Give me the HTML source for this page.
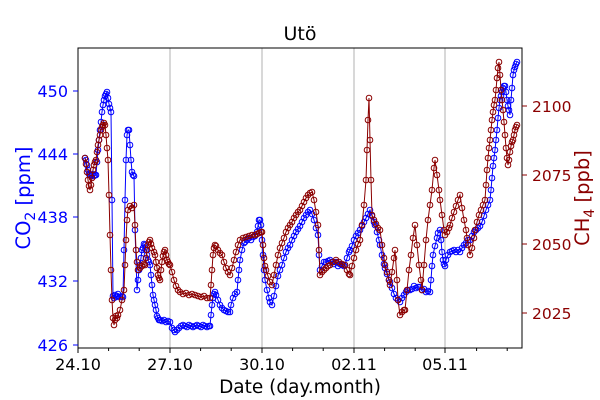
<!DOCTYPE html>
<html><head><meta charset="utf-8"><style>
html,body{margin:0;padding:0;background:#fff;}
svg{display:block;font-family:"DejaVu Sans","Liberation Sans",sans-serif;}
</style></head><body>
<svg width="600" height="400" viewBox="0 0 600 400" xmlns="http://www.w3.org/2000/svg">
<defs>
<marker id="mb" markerUnits="userSpaceOnUse" markerWidth="8" markerHeight="8" refX="4" refY="4" overflow="visible"><circle cx="4" cy="4" r="2.8" fill="none" stroke="#0000ff" stroke-width="1"/></marker>
<marker id="mr" markerUnits="userSpaceOnUse" markerWidth="8" markerHeight="8" refX="4" refY="4" overflow="visible"><circle cx="4" cy="4" r="2.8" fill="none" stroke="#8b0000" stroke-width="1"/></marker>
</defs>
<rect width="600" height="400" fill="#fff"/>
<g stroke="#b0b0b0" stroke-width="1">
<line x1="170" y1="48" x2="170" y2="348"/><line x1="262" y1="48" x2="262" y2="348"/>
<line x1="354" y1="48" x2="354" y2="348"/><line x1="445" y1="48" x2="445" y2="348"/>
</g>
<polyline fill="none" stroke="#0000ff" stroke-width="1" marker-start="url(#mb)" marker-mid="url(#mb)" marker-end="url(#mb)" points="85,158 86,160 87,165 88,170 89,174 90,175 91,176 92,175 93,174 94,176 95,175 96,175 97,162 98,150 99,140 100,130 101,122 102,112 103,105 104,100 105,96 106,94 107,92 108,98 109,104 110,108 111,112 112,200 113,296 114,298 115,295 116,297 117,296 118,294 120,297 122,296 123,297 124,250 125,200 126,160 127,135 128,130 129,130 130,145 131,160 132,172 133,175 134,176 135,230 137,290 138,280 139,270 140,265 141,258 142,250 143,248 144,244 145,245 146,250 147,255 148,260 149,262 150,265 151,275 152,285 153,295 154,300 155,305 156,310 157,316 158,318 159,320 160,320 162,321 164,320 166,322 168,321 170,322 172,328 174,330 175,332 177,330 179,328 181,326 183,325 185,326 187,327 189,325 191,326 193,327 195,326 197,325 199,326 201,327 203,325 205,326 207,327 209,326 210,326 211,315 212,305 213,298 214,294 215,292 216,295 218,300 220,305 222,308 224,310 226,311 228,312 230,312 231,305 233,298 235,294 237,292 238,280 239,270 240,260 242,250 244,243 245,242 247,240 249,238 251,240 253,237 255,236 257,232 258,226 259,220 260,220 261,225 262,240 263,255 264,270 265,280 267,290 269,298 270,302 272,305 274,296 276,286 278,276 280,270 282,265 284,258 286,252 288,248 290,245 292,240 294,236 296,232 298,229 300,226 302,222 304,218 306,215 308,212 310,210 312,214 314,220 316,228 318,235 319,255 320,270 322,266 324,262 326,262 328,261 330,260 332,262 334,264 336,262 338,266 340,264 342,265 344,266 345,265 347,258 349,252 350,250 352,246 354,240 356,236 358,233 360,230 362,226 364,222 366,218 368,214 370,210 372,216 374,222 375,225 377,232 379,240 380,245 382,255 384,264 385,268 387,274 389,280 390,282 392,288 394,294 396,298 398,300 400,302 402,298 404,295 406,292 408,290 410,290 412,289 414,286 416,288 418,287 420,287 422,290 424,289 426,292 428,291 430,292 431,280 432,266 433,255 435,246 437,238 438,233 440,230 441,240 442,252 443,260 444,264 445,266 446,260 448,255 450,252 452,251 454,250 456,252 458,250 460,252 462,248 464,245 466,243 468,240 470,240 472,236 474,232 476,230 478,228 480,226 482,222 484,216 486,210 488,205 490,200 491,190 492,178 493,166 494,158 495,150 496,140 497,130 498,118 499,108 500,100 501,96 502,92 503,88 504,86 505,86 506,92 507,100 508,106 509,110 510,115 511,100 512,88 513,75 514,70 515,67 516,64 517,62"/>
<polyline fill="none" stroke="#8b0000" stroke-width="1" marker-start="url(#mr)" marker-mid="url(#mr)" marker-end="url(#mr)" points="85,158 86,164 87,172 88,180 89,186 90,190 91,185 92,178 93,170 94,165 95,162 96,160 97,152 98,145 99,140 100,135 101,130 102,127 103,125 104,123 105,125 106,135 107,148 108,160 109,195 110,235 111,270 112,300 113,318 114,325 115,320 116,316 117,318 118,315 120,310 122,300 124,290 125,265 126,240 127,220 128,210 130,206 132,208 134,205 135,225 136,250 137,262 138,270 140,268 142,266 144,264 145,265 146,258 147,250 148,245 149,242 150,240 151,244 152,248 154,252 155,255 156,262 157,268 158,275 159,278 160,280 161,270 162,262 163,256 164,252 165,250 166,255 167,260 168,262 169,264 170,265 172,272 174,280 176,286 178,290 180,292 183,294 186,293 189,295 192,294 195,295 198,296 201,297 204,296 207,298 210,298 211,285 212,270 213,255 214,248 215,245 216,246 218,250 220,253 222,255 224,262 226,268 228,272 230,275 232,268 234,260 236,252 238,245 240,240 243,238 246,237 249,236 252,235 255,235 257,234 259,233 261,232 262,232 263,245 264,258 265,266 266,270 268,276 270,282 272,285 274,275 276,265 278,255 280,248 282,243 284,238 286,232 288,228 290,225 292,222 294,218 296,215 298,212 300,210 302,206 304,202 306,198 308,195 310,193 312,192 314,200 316,212 318,225 319,250 320,275 322,272 324,270 326,268 328,266 330,265 333,262 336,260 339,262 342,264 345,265 347,270 349,274 350,275 352,266 354,258 356,250 358,244 360,240 362,225 364,205 366,180 367,150 368,120 369,98 370,140 371,180 372,215 374,220 376,224 378,228 380,230 382,245 384,258 385,265 387,272 389,280 390,285 392,272 394,258 395,250 397,280 398,300 400,315 402,312 404,310 405,310 407,290 409,270 411,255 413,238 415,225 417,245 419,265 421,280 422,290 424,265 426,240 428,220 430,205 432,190 434,168 435,160 437,175 439,190 440,200 442,215 444,230 445,235 447,232 449,228 450,225 452,218 454,212 456,206 458,200 460,195 462,208 464,220 466,230 467,238 468,245 470,255 472,248 474,238 475,230 477,222 479,215 481,210 483,205 485,200 486,185 487,170 488,158 489,148 490,140 491,130 492,120 493,112 494,105 495,100 496,90 497,78 498,68 499,62 500,75 501,90 502,100 503,110 504,122 505,135 506,148 507,158 508,165 509,160 510,152 511,146 512,142 513,140 514,135 515,130 516,127 517,125"/>
<rect x="78" y="48" width="444" height="300" fill="none" stroke="#000" stroke-width="1"/>
<g stroke="#000">
<line x1="78" y1="348" x2="78" y2="353"/><line x1="170" y1="348" x2="170" y2="353"/><line x1="262" y1="348" x2="262" y2="353"/><line x1="354" y1="348" x2="354" y2="353"/><line x1="445" y1="348" x2="445" y2="353"/>
<line x1="108.6" y1="348" x2="108.6" y2="351"/><line x1="139.2" y1="348" x2="139.2" y2="351"/><line x1="200.6" y1="348" x2="200.6" y2="351"/><line x1="231.2" y1="348" x2="231.2" y2="351"/><line x1="292.6" y1="348" x2="292.6" y2="351"/><line x1="323.2" y1="348" x2="323.2" y2="351"/><line x1="384.6" y1="348" x2="384.6" y2="351"/><line x1="415.2" y1="348" x2="415.2" y2="351"/><line x1="476.6" y1="348" x2="476.6" y2="351"/><line x1="507.2" y1="348" x2="507.2" y2="351"/>
</g>
<g font-size="16" text-anchor="middle" fill="#000">
<text x="78" y="370">24.10</text><text x="170" y="370">27.10</text><text x="262" y="370">30.10</text><text x="354" y="370">02.11</text><text x="445" y="370">05.11</text>
</g>
<text x="300" y="393" font-size="18.5" text-anchor="middle">Date (day.month)</text>
<text x="300" y="40" font-size="19" text-anchor="middle">Utö</text>
<g stroke="#0000ff"><line x1="73" y1="91" x2="78" y2="91"/><line x1="73" y1="154" x2="78" y2="154"/><line x1="73" y1="217" x2="78" y2="217"/><line x1="73" y1="281" x2="78" y2="281"/><line x1="73" y1="345" x2="78" y2="345"/></g>
<g font-size="16" fill="#0000ff" text-anchor="end">
<text x="68" y="97">450</text><text x="68" y="160">444</text><text x="68" y="223">438</text><text x="68" y="287">432</text><text x="68" y="351">426</text>
</g>
<text transform="translate(30,198) rotate(-90)" font-size="19.5" fill="#0000ff" text-anchor="middle">CO<tspan font-size="14" dy="5">2</tspan><tspan dy="-5"> [ppm]</tspan></text>
<g stroke="#8b0000"><line x1="522" y1="106" x2="527" y2="106"/><line x1="522" y1="175" x2="527" y2="175"/><line x1="522" y1="244" x2="527" y2="244"/><line x1="522" y1="313" x2="527" y2="313"/></g>
<g font-size="15.5" fill="#8b0000">
<text x="532" y="112">2100</text><text x="532" y="181">2075</text><text x="532" y="250">2050</text><text x="532" y="319">2025</text>
</g>
<text transform="translate(589,198) rotate(-90)" font-size="19.5" fill="#8b0000" text-anchor="middle">CH<tspan font-size="14" dy="5">4</tspan><tspan dy="-5"> [ppb]</tspan></text>
</svg>
</body></html>
